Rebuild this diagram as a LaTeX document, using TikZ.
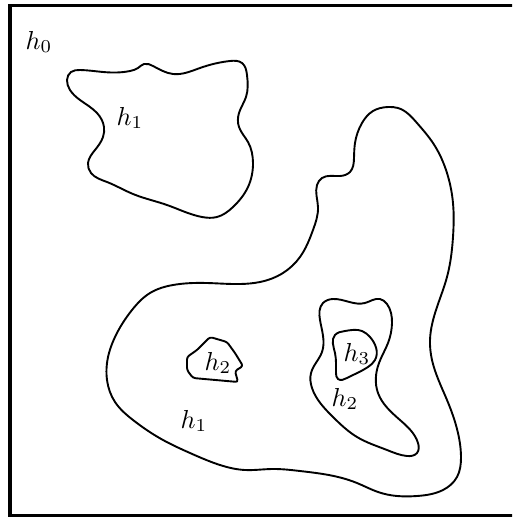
\documentclass[tikz,border=0pt]{standalone}
\usetikzlibrary{hobby}
\tikzset{
  contour/.style={draw=black,line width=1.9pt,use Hobby shortcut},
  frame/.style={draw=black,line width=3.4pt},
  lab/.style={scale=2.6,inner sep=0pt}
}
\begin{document}
\begin{tikzpicture}[x=1pt,y=-1pt]
\useasboundingbox (0,0) rectangle (512,517);
\begin{scope}
\clip (0,0) rectangle (512,517);
\draw[frame] (10,5.5) rectangle (516,515.5);
\end{scope}
\draw[contour,closed=true] (67,80) .. (71,72) .. (80,70) .. (103,72) .. (130,71) .. (138,68) .. (144,64) .. (153,66) .. (173,74) .. (200,68) .. (230,61) .. (242,63) .. (247,75) .. (246,97) .. (239,113) .. (239,127) .. (248,142) .. (253,163) .. (248,187) .. (233,207) .. (217,217) .. (202,217) .. (167,205) .. (133,194) .. (107,182) .. (91,173) .. (88,163) .. (95,150) .. (103,137) .. (104,127) .. (97,113) .. (80,100) .. (70,90);
\draw[contour,closed=true] (388,107) .. (398,108) .. (417,123) .. (433,143) .. (447,173) .. (453,203) .. (453,237) .. (447,277) .. (437,307) .. (430,340) .. (432,360) .. (447,400) .. (458,433) .. (461,457) .. (457,477) .. (443,490) .. (417,496) .. (397,496) .. (378,492) .. (357,483) .. (323,474) .. (300,471) .. (272,469) .. (245,470) .. (220,465) .. (190,453) .. (163,440) .. (133,420) .. (115,402) .. (107,380) .. (107,363) .. (115,337) .. (132,310) .. (150,293) .. (173,285) .. (207,283) .. (240,284) .. (260,282) .. (283,273) .. (300,257) .. (313,230) .. (318,207) .. (317,185) .. (322,178) .. (340,176) .. (350,172) .. (354,158) .. (355,143) .. (362,123) .. (373,111);
\draw[contour,rounded corners=2.5pt] (210,337) -- (227,342) -- (235,353) -- (243,366) -- (235,371) -- (238,382) -- (193,378) -- (187,370) -- (187,357) -- (197,350) -- cycle;
\draw[contour,closed=true] (333,299) .. (365,303) .. (380,299) .. (387,304) .. (392,323) .. (388,343) .. (379,363) .. (378,393) .. (400,420) .. (418,443) .. (417,453) .. (407,456) .. (387,450) .. (357,437) .. (333,417) .. (312,388) .. (311,373) .. (322,352) .. (320,320) .. (323,303);
\draw[contour,closed=true] (335,335) .. (345,331) .. (362,331) .. (370,337) .. (375,360) .. (368,367) .. (347,378) .. (338,379) .. (336,373) .. (335,353);
\node[lab] (l0) at (39,42) {$h_0$};
\node[lab] (l1) at (130,118) {$h_1$};
\node[lab] (l2) at (218,363) {$h_2$};
\node[lab] (l3) at (194,421) {$h_1$};
\node[lab] (l4) at (357,354) {$h_3$};
\node[lab] (l5) at (345,399) {$h_2$};
\end{tikzpicture}
\end{document}
